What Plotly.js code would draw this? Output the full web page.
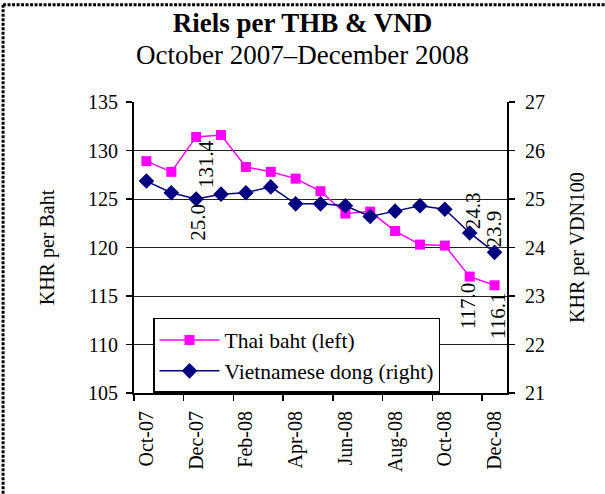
<!DOCTYPE html>
<html>
<head>
<meta charset="utf-8">
<script src="https://cdn.plot.ly/plotly-3.0.1.min.js"></script>
<style>
html, body { margin: 0; padding: 0; background: #fff; }
#chart { width: 605px; height: 494px; }
</style>
</head>
<body>
<div id="chart"></div>
<script>
const months = ['Oct-07','Nov-07','Dec-07','Jan-08','Feb-08','Mar-08','Apr-08','May-08','Jun-08','Jul-08','Aug-08','Sep-08','Oct-08','Nov-08','Dec-08'];
const thaiBaht = [128.9, 127.8, 131.4, 131.6, 128.3, 127.8, 127.1, 125.8, 123.5, 123.7, 121.7, 120.3, 120.2, 117.0, 116.1];
const vietDong = [25.37, 25.13, 25.0, 25.10, 25.13, 25.25, 24.90, 24.90, 24.86, 24.64, 24.75, 24.86, 24.79, 24.3, 23.9];
const leftTicks = [105, 110, 115, 120, 125, 130, 135];
const rightTicks = [21, 22, 23, 24, 25, 26, 27];
// months (by index) that carry a data label
const thbLabels = [2, 13, 14];
const vndLabels = [2, 13, 14];

const FONT = '"Liberation Serif", "Times New Roman", Times, serif';
const PINK = '#FF00FF';
const NAVY = '#000080';

const traces = [
  {
    x: months, y: thaiBaht, name: 'Thai baht (left)', type: 'scatter', mode: 'lines+markers',
    line: {color: PINK, width: 1.5},
    marker: {symbol: 'square', size: 10, color: PINK},
    yaxis: 'y', cliponaxis: false
  },
  {
    x: months, y: vietDong, name: 'Vietnamese dong (right)', type: 'scatter', mode: 'lines+markers',
    line: {color: NAVY, width: 1.5},
    marker: {symbol: 'diamond', size: 12, color: NAVY},
    yaxis: 'y2', cliponaxis: false
  }
];

const annotations = [];
const thbShift = {2: [10, -1], 13: [-2, -5], 14: [4, -6]};
thbLabels.forEach(i => {
  annotations.push({
    x: months[i], y: thaiBaht[i], xref: 'x', yref: 'y',
    text: thaiBaht[i].toFixed(1), textangle: -90, showarrow: false,
    xanchor: 'center', yanchor: 'top', xshift: thbShift[i][0], yshift: thbShift[i][1],
    font: {family: FONT, size: 21, color: '#000'}
  });
});
const vndShift = {2: [1, -3], 13: [4, 2], 14: [-1, 3]};
vndLabels.forEach(i => {
  annotations.push({
    x: months[i], y: vietDong[i], xref: 'x', yref: 'y2',
    text: vietDong[i].toFixed(1), textangle: -90, showarrow: false,
    xanchor: 'center', yanchor: i === 2 ? 'top' : 'bottom',
    xshift: vndShift[i][0], yshift: vndShift[i][1],
    font: {family: FONT, size: 21, color: '#000'}
  });
});
// subtitle
annotations.push({
  xref: 'paper', yref: 'paper', x: 0.452, y: 1.1615, xanchor: 'center', yanchor: 'middle',
  text: 'October 2007\u2013December 2008', showarrow: false,
  font: {family: FONT, size: 27, color: '#000'}
});

const layout = {
  width: 605, height: 494,
  margin: {l: 134, r: 98, t: 102, b: 101},
  paper_bgcolor: '#fff', plot_bgcolor: '#fff',
  font: {family: FONT, size: 20, color: '#000'},
  showlegend: true,
  title: {
    text: '<b>Riels per THB &amp; VND</b>',
    font: {family: FONT, size: 27, color: '#000'},
    x: 0.5, xanchor: 'center', xref: 'container',
    y: 0.955, yanchor: 'middle', yref: 'container'
  },
  xaxis: {
    type: 'category', categoryorder: 'array', categoryarray: months,
    range: [-0.5, months.length - 0.5], autorange: false,
    tickmode: 'linear', tick0: 0, dtick: 2,
    tickson: 'boundaries', ticks: 'outside', ticklen: 6, tickwidth: 1.5, tickcolor: '#000',
    tickangle: -90, tickfont: {family: FONT, size: 20}, ticklabelstandoff: 8,
    showline: true, linecolor: '#000', linewidth: 2,
    showgrid: false, zeroline: false, fixedrange: true
  },
  yaxis: {
    range: [105, 135], tickvals: leftTicks, ticktext: leftTicks.map(String),
    ticks: 'outside', ticklen: 6, tickwidth: 1.5, tickcolor: '#000',
    tickfont: {family: FONT, size: 20}, ticklabelstandoff: 4,
    showline: true, linecolor: '#000', linewidth: 2,
    showgrid: true, gridcolor: '#222', gridwidth: 1, zeroline: false,
    title: {text: 'KHR per Baht', font: {family: FONT, size: 20}, standoff: 28},
    fixedrange: true
  },
  yaxis2: {
    range: [21, 27], tickvals: rightTicks, ticktext: rightTicks.map(String),
    overlaying: 'y', side: 'right',
    ticks: 'outside', ticklen: 6, tickwidth: 1.5, tickcolor: '#000',
    tickfont: {family: FONT, size: 20}, ticklabelstandoff: 6,
    showline: true, linecolor: '#000', linewidth: 2,
    showgrid: false, zeroline: false,
    title: {text: 'KHR per VDN100', font: {family: FONT, size: 20}, standoff: 26},
    fixedrange: true
  },
  legend: {
    x: 0.051, y: 0.258, xanchor: 'left', yanchor: 'top',
    bgcolor: '#fff', bordercolor: '#000', borderwidth: 1.5,
    font: {family: FONT, size: 21.5, color: '#000'},
    itemwidth: 60, tracegroupgap: 0
  },
  annotations: annotations,
  shapes: [
    {type: 'line', xref: 'paper', yref: 'paper', x0: -0.351, x1: 1.3, y0: 1.3345, y1: 1.3345,
     line: {color: '#000', width: 3, dash: '3px,1.5px'}},
    {type: 'line', xref: 'paper', yref: 'paper', x0: -0.351, x1: -0.351, y0: 1.3345, y1: -0.36,
     line: {color: '#000', width: 3, dash: '3px,1.5px'}}
  ]
};

Plotly.newPlot('chart', traces, layout, {displayModeBar: false, staticPlot: true});
</script>
</body>
</html>
